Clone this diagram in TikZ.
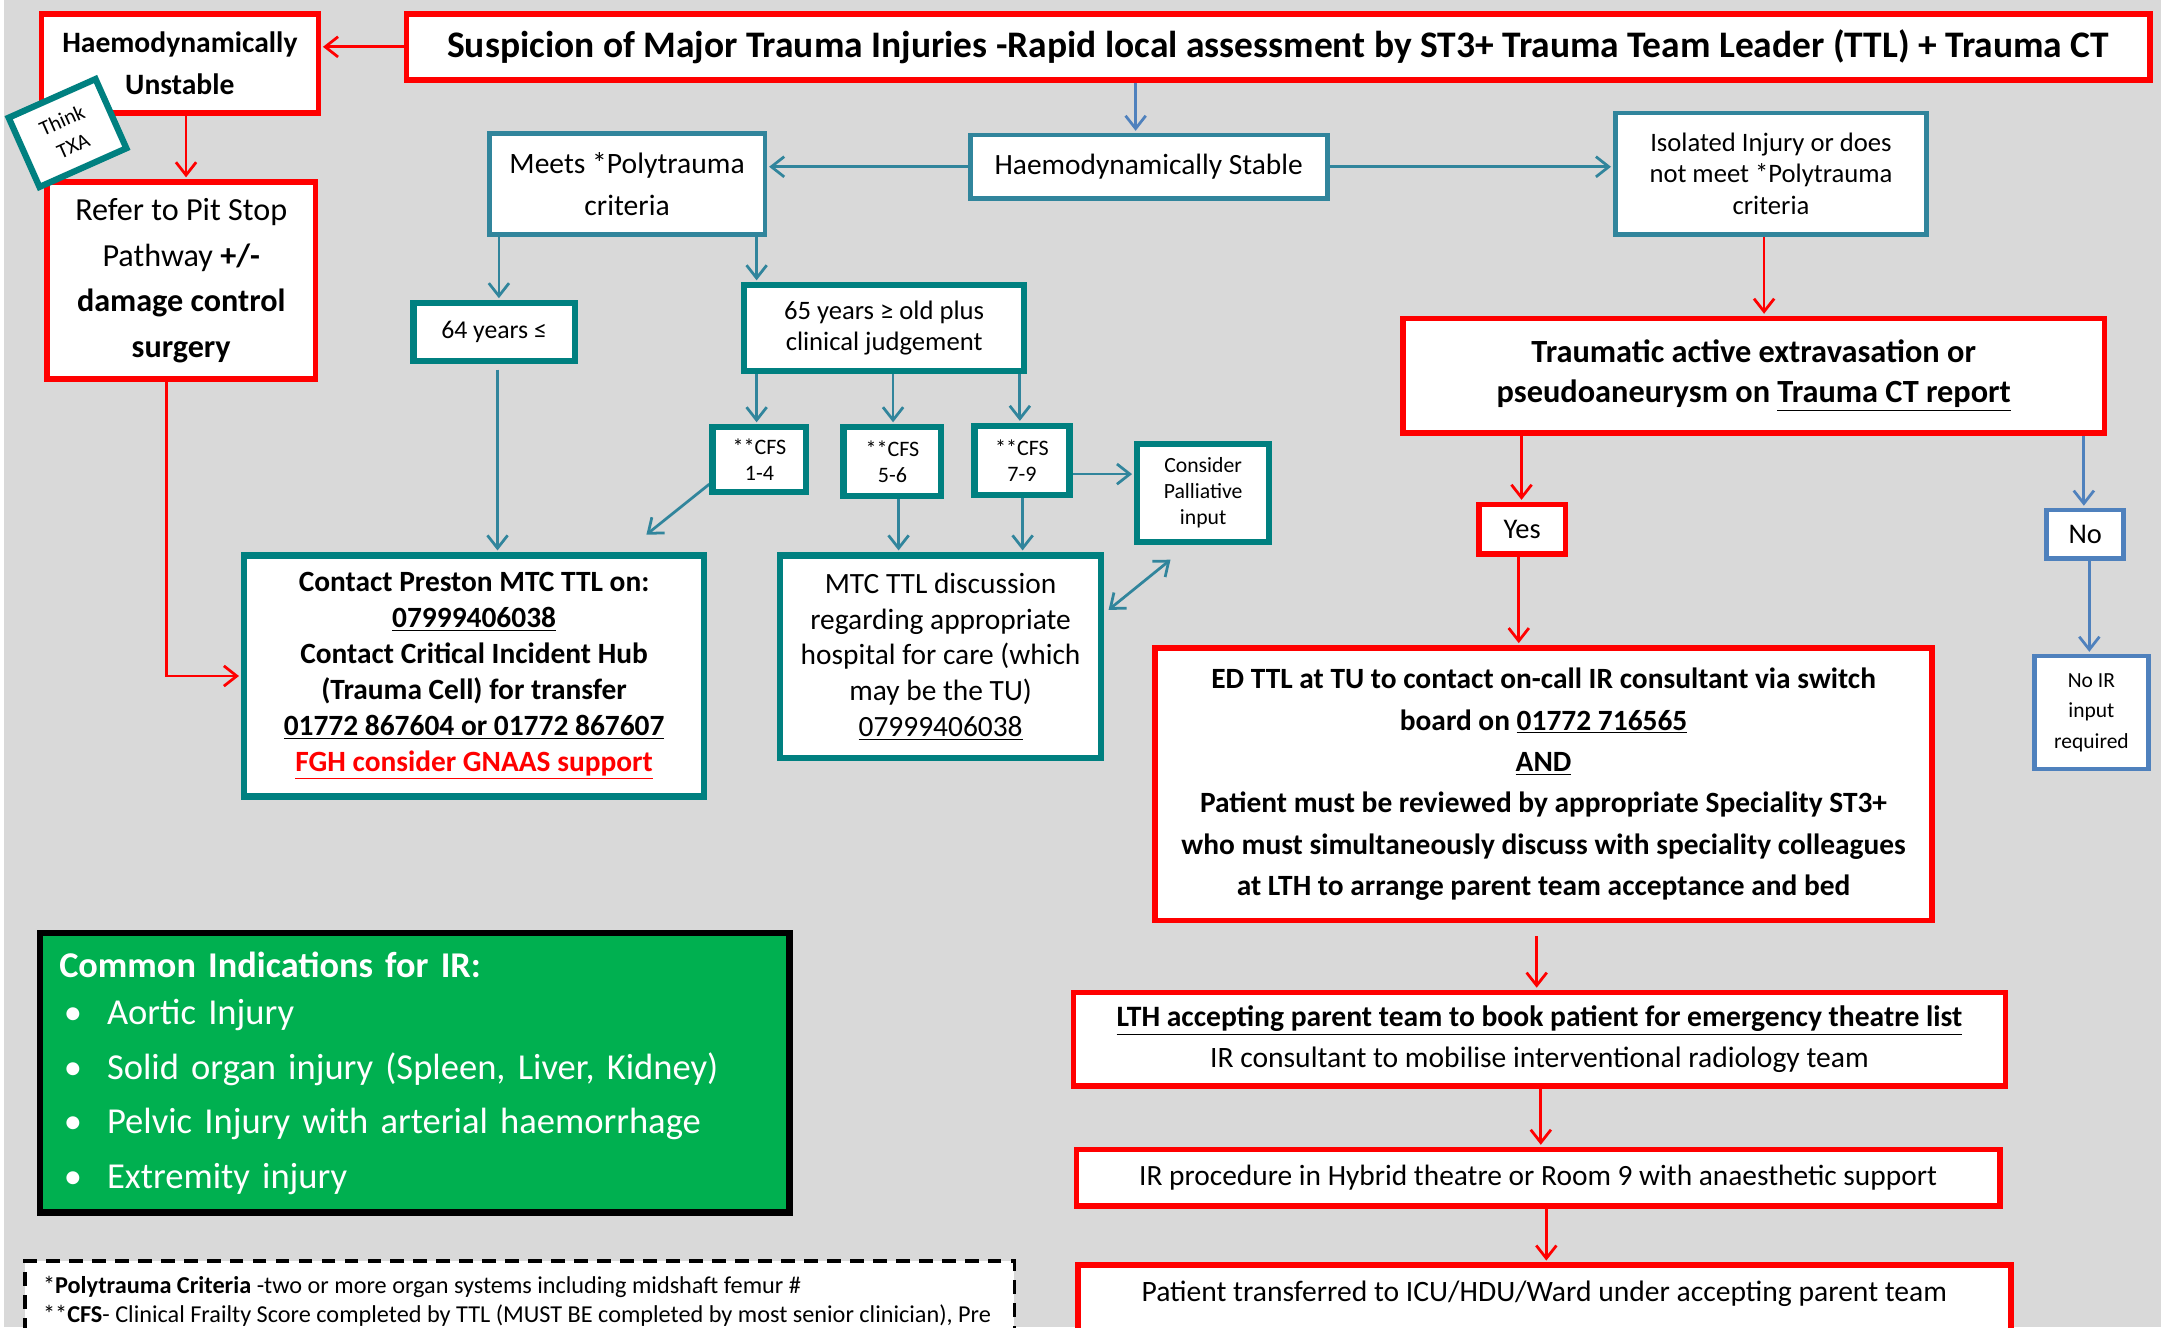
\documentclass[tikz,border=0pt]{standalone}
\usepackage{fontspec}
\setmainfont{Carlito}
\usetikzlibrary{arrows.meta,calc}
\definecolor{redc}{HTML}{FF0000}
\definecolor{tealA}{HTML}{31859C}
\definecolor{tealB}{HTML}{008080}
\definecolor{bluec}{HTML}{4F81BD}
\definecolor{bgc}{HTML}{D9D9D9}
\definecolor{greenc}{HTML}{00B050}
\pgfdeclarelayer{bg}
\pgfsetlayers{bg,main}
\begin{document}
\begin{tikzpicture}[x=0.75pt,y=-0.75pt,
  sz/.style 2 args={minimum width=#1*0.75pt-3pt, minimum height=#2*0.75pt-3pt},
  base/.style={fill=white, inner sep=0pt, align=center, text=black},
  redbox/.style={base, draw=redc, line width=3pt},
  tabox/.style={base, draw=tealA, line width=2.6pt},
  tbbox/.style={base, draw=tealB, line width=3.4pt},
  blbox/.style={base, draw=bluec, line width=2.6pt},
  conn/.style={line width=1.5pt, shorten >=1pt, -{Straight Barb[length=7pt,width=11pt]}},
  rarr/.style={conn, draw=redc},
  tarr/.style={conn, draw=tealA},
  barr/.style={conn, draw=bluec},
]
\useasboundingbox (0,0) rectangle (1568,963);
\clip (0,0) rectangle (1568,963);
\begin{pgfonlayer}{bg}
\fill[bgc] (0,0) rectangle (1568,963);
\fill[white] (0,0) rectangle (3,963);
\end{pgfonlayer}

% column coordinates
\coordinate (c121) at (121,0);
\coordinate (c135) at (135,0);
\coordinate (c824) at (824,0);
\coordinate (c362) at (362,0);
\coordinate (c361) at (361,0);
\coordinate (c549) at (549,0);
\coordinate (c648) at (648,0);
\coordinate (c740) at (740,0);
\coordinate (c652) at (652,0);
\coordinate (c742) at (742,0);
\coordinate (c1280) at (1280,0);
\coordinate (c1104) at (1104,0);
\coordinate (c1512) at (1512,0);
\coordinate (c1516) at (1516,0);
\coordinate (c1102) at (1102,0);
\coordinate (c1115) at (1115,0);
\coordinate (c1118) at (1118,0);
\coordinate (c1122) at (1122,0);

% nodes
\node[redbox, sz={205}{76}, font={\fontsize{16.1}{22.5}\selectfont\bfseries}] (unst) at (130.5,46) {Haemodynamically\\Unstable};
\node[redbox, sz={1269}{52}, font={\fontsize{20.4}{24}\selectfont\bfseries}] (title) at (927.5,34) {Suspicion of Major Trauma Injuries -Rapid local assessment by ST3+ Trauma Team Leader (TTL) + Trauma CT};
\node[redbox, sz={199}{147}, font={\fontsize{17.5}{24.75}\selectfont}] (refer) at (131.5,203.5) {Refer to Pit Stop\\Pathway \textbf{+/-}\\\textbf{damage control}\\\textbf{surgery}};
\node[tbbox, sz={73}{59}, rotate=24, font={\fontsize{11.5}{15}\selectfont}] (think) at (49,96.5) {Think\\TXA};

\node[tabox, sz={263}{50}, font={\fontsize{16}{19}\selectfont}] (stable) at (833.5,121) {Haemodynamically Stable};
\node[tabox, sz={204}{77}, font={\fontsize{16.1}{22.5}\selectfont}] (meets) at (455,133.5) {Meets *Polytrauma\\criteria};
\node[tabox, sz={230}{92}, font={\fontsize{14.5}{17.25}\selectfont}] (iso) at (1285,126) {Isolated Injury or does\\not meet *Polytrauma\\criteria};

\node[tbbox, sz={121}{46}, font={\fontsize{14}{17.25}\selectfont}] (low) at (358.5,241) {64 years ≤};
\node[tbbox, sz={207}{66}, font={\fontsize{14.5}{17.25}\selectfont}] (old) at (641.5,238) {65 years ≥ old plus\\clinical judgement};
\node[tbbox, sz={72}{51}, font={\fontsize{12}{14.25}\selectfont}] (cfs1) at (551,333.5) {**CFS\\1-4};
\node[tbbox, sz={75}{54}, font={\fontsize{12}{14.25}\selectfont}] (cfs2) at (647.5,335) {**CFS\\5-6};
\node[tbbox, sz={73}{54}, font={\fontsize{12}{14.25}\selectfont}] (cfs3) at (741.5,334) {**CFS\\7-9};
\node[tbbox, sz={100}{75}, font={\fontsize{11.8}{14.25}\selectfont}] (pall) at (873,357.5) {Consider\\Palliative\\input};

\node[tbbox, sz={338}{179}, font={\fontsize{16}{19.5}\selectfont\bfseries}] (contact) at (344,490.5) {Contact Preston MTC TTL on:\\\underline{07999406038}\\Contact Critical Incident Hub\\(Trauma Cell) for transfer\\\underline{01772 867604 or 01772 867607}\\\textcolor{redc}{\underline{FGH consider GNAAS support}}};
\node[tbbox, sz={237}{151}, font={\fontsize{16}{19.5}\selectfont}] (mtc) at (682.5,476.5) {MTC TTL discussion\\regarding appropriate\\hospital for care (which\\may be the TU)\\\underline{07999406038}};

\node[redbox, sz={513}{87}, font={\fontsize{17.6}{21.75}\selectfont\bfseries}] (trauma) at (1272.5,272.5) {Traumatic active extravasation or\\pseudoaneurysm on \underline{Trauma CT report}};
\node[redbox, sz={67}{40}, font={\fontsize{15.5}{16}\selectfont}] (yes) at (1104.5,384) {Yes};
\node[blbox, sz={60}{39}, font={\fontsize{15.5}{16}\selectfont}] (no) at (1513,387.5) {No};
\node[blbox, sz={87}{86}, font={\fontsize{11.7}{16.5}\selectfont}] (noir) at (1517.5,517) {No IR\\input\\required};

\node[redbox, sz={568}{202}, font={\fontsize{16}{22.5}\selectfont\bfseries}] (ed) at (1120,569) {ED TTL at TU to contact on-call IR consultant via switch\\board on \underline{01772 716565}\\\underline{AND}\\Patient must be reviewed by appropriate Speciality ST3+\\who must simultaneously discuss with speciality colleagues\\at LTH to arrange parent team acceptance and bed};
\node[redbox, sz={680}{72}, font={\fontsize{16.1}{22.5}\selectfont}] (lth) at (1117,754) {\textbf{\underline{LTH accepting parent team to book patient for emergency theatre list}}\\IR consultant to mobilise interventional radiology team};
\node[redbox, sz={674}{45}, font={\fontsize{16}{18}\selectfont}] (irp) at (1116,854.5) {IR procedure in Hybrid theatre or Room 9 with anaesthetic support};
\node[redbox, sz={681}{92}, font={\fontsize{16.1}{18}\selectfont}] (pt) at (1120.5,962) {\raisebox{13.5pt}[0pt][0pt]{Patient transferred to ICU/HDU/Ward under accepting parent team}};

\node[draw=black, line width=3.75pt, fill=greenc, sz={548}{207}, text=white, align=left, text width=387pt, inner sep=0pt, font={\fontsize{19.9}{29.6}\selectfont}] (ind) at (301,778.5) {{\bfseries\fontsize{19.75}{26}\selectfont Common Indications for IR:}\\[-3.6pt]
\makebox[26pt][l]{\hspace{2.5pt}•}Aortic Injury\\
\makebox[26pt][l]{\hspace{2.5pt}•}Solid organ injury (Spleen, Liver, Kidney)\\
\makebox[26pt][l]{\hspace{2.5pt}•}Pelvic Injury with arterial haemorrhage\\
\makebox[26pt][l]{\hspace{2.5pt}•}Extremity injury};

\node[draw=black, dashed, dash pattern=on 7.5pt off 5pt, line width=2pt, fill=white, sz={722}{110}] (foot) at (377,968) {};
\node[anchor=west, align=left, inner sep=0pt, font={\fontsize{13.2}{15.75}\selectfont}] (foottext) at (31,944.5) {*\textbf{Polytrauma Criteria} -two or more organ systems including midshaft femur \#\\**\textbf{CFS}- Clinical Frailty Score completed by TTL (MUST BE completed by most senior clinician), Pre};

% connectors
\begin{pgfonlayer}{bg}
\draw[rarr] (title.west) -- (title.west -| unst.east);
\draw[rarr] (unst.south -| c135) -- (refer.north -| c135);
\draw[rarr] (refer.south -| c121) -- (c121 |- contact.west) -- (contact.west);
\draw[barr] (title.south -| c824) -- (stable.north -| c824);
\draw[tarr] (stable.west) -- (stable.west -| meets.east);
\draw[tarr] (stable.east) -- (stable.east -| iso.west);
\draw[tarr] (meets.south -| c362) -- (low.north -| c362);
\draw[tarr] (meets.south -| c549) -- (old.north -| c549);
\draw[tarr] (old.south -| c549) -- (cfs1.north -| c549);
\draw[tarr] (old.south -| c648) -- (cfs2.north -| c648);
\draw[tarr] (old.south -| c740) -- (cfs3.north -| c740);
\draw[tarr] ([yshift=-7.5pt]cfs3.east) -- ([yshift=-7.5pt]cfs3.east -| pall.west);
\draw[tarr] ([yshift=-3pt]low.south -| c361) -- (contact.north -| c361);
\draw[tarr] ([yshift=6pt]cfs1.south west) -- ([xshift=93pt,yshift=9pt]contact.north);
\draw[tarr] (cfs2.south -| c652) -- (mtc.north -| c652);
\draw[tarr] (cfs3.south -| c742) -- (mtc.north -| c742);
\draw[tarr, {Straight Barb[length=7pt,width=11pt]}-{Straight Barb[length=7pt,width=11pt]}, shorten <=3pt] ([yshift=23.6pt]mtc.east) -- ([xshift=-17pt,yshift=-7.5pt]pall.south);
\draw[rarr] (iso.south -| c1280) -- (trauma.north -| c1280);
\draw[rarr] (trauma.south -| c1104) -- (yes.north -| c1104);
\draw[barr] (trauma.south -| c1512) -- (no.north -| c1512);
\draw[barr] (no.south -| c1516) -- (noir.north -| c1516);
\draw[rarr] (yes.south -| c1102) -- (ed.north -| c1102);
\draw[rarr] ([yshift=-7pt]ed.south -| c1115) -- (lth.north -| c1115);
\draw[rarr] (lth.south -| c1118) -- (irp.north -| c1118);
\draw[rarr] (irp.south -| c1122) -- (pt.north -| c1122);
\end{pgfonlayer}
\end{tikzpicture}
\end{document}
